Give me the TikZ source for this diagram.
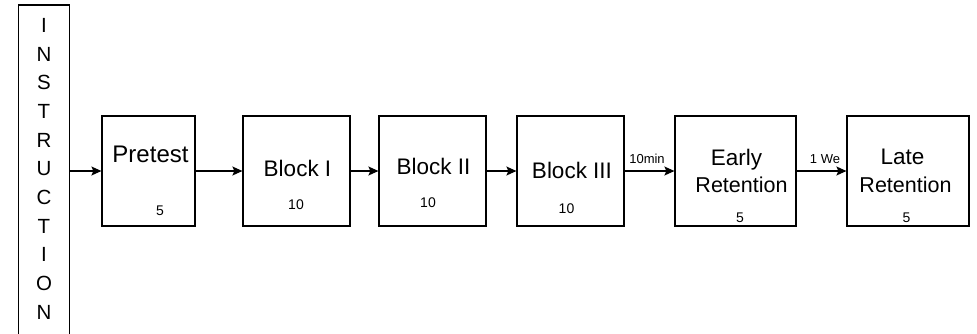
\documentclass[tikz,border=0pt]{standalone}
\usepackage{fontspec}
\setmainfont{Liberation Sans}
\usetikzlibrary{arrows.meta}
\begin{document}
\begin{tikzpicture}[x=1pt,y=-1pt,
  box/.style={draw, line width=1.2pt, minimum height=110pt, inner sep=0pt},
  big/.style={font=\fontsize{22.5}{26}\selectfont, inner sep=0pt, text height=16.1pt, text depth=0pt, anchor=center},
  num/.style={font=\fontsize{14}{16}\selectfont, inner sep=0pt, text height=10pt, text depth=0pt, anchor=center},
  lbl/.style={font=\fontsize{13}{15}\selectfont, inner sep=0pt, text height=9.3pt, text depth=0pt, anchor=center},
  letter/.style={font=\fontsize{20.5}{24}\selectfont, inner sep=0pt, text height=14.7pt, text depth=0pt, anchor=center},
  arr/.style={line width=1.2pt, -{Stealth[length=10pt,width=9pt,inset=2pt]}}]
\useasboundingbox (0,0) rectangle (977,333);
% instruction column
\node[draw, line width=1.2pt, minimum width=50.5pt, minimum height=340pt, inner sep=0pt] (instr) at (44,175) {};
\foreach \ch [count=\i from 0] in {I,N,S,T,R,U,C,T,I,O,N}
  \node[letter] (L\i) at (44, 25+28.7*\i) {\ch};
% boxes
\node[box, minimum width=93pt]  (pre) at (148.5,171) {};
\node[box, minimum width=107pt] (b1)  at (296.5,171) {};
\node[box, minimum width=107pt] (b2)  at (432.5,171) {};
\node[box, minimum width=107pt] (b3)  at (570.5,171) {};
\node[box, minimum width=121pt] (er)  at (735.5,171) {};
\node[box, minimum width=122pt] (lr)  at (908,171) {};
% texts
\node[big, font=\fontsize{24}{28}\selectfont, text height=17pt] (preT) at (150.5,154) {Pretest};
\node[num] (preN) at (160,210) {5};
\node[big] (b1T) at (297.5,168) {Block I};
\node[big] (b2T) at (433.5,166.5) {Block II};
\node[num] (b1N) at (296,204) {10};
\node[num] (b2N) at (428,202) {10};
\node[big] (b3T) at (572,170.5) {Block III};
\node[num] (b3N) at (566.5,208) {10};
\node[big] (erT1) at (736.5,157) {Early};
\node[big, font=\fontsize{21.5}{26}\selectfont] (erT2) at (741.5,184) {Retention};
\node[num] (erN) at (740,217) {5};
\node[big] (lrT1) at (902.5,156.5) {Late};
\node[big, font=\fontsize{21.5}{26}\selectfont] (lrT2) at (905.5,184) {Retention};
\node[num] (lrN) at (906.5,217) {5};
% arrows
\draw[arr] (instr.east |- pre.west) -- (pre.west);
\draw[arr] (pre.east) -- (b1.west);
\draw[arr] (b1.east) -- (b2.west);
\draw[arr] (b2.east) -- (b3.west);
\draw[arr] (b3.east) -- (er.west);
\draw[arr] (er.east) -- (lr.west);
% arrow labels
\node[lbl] (t10) at (647,159) {10min};
\node[lbl] (t1w) at (825,159) {1 We};
\end{tikzpicture}
\end{document}
